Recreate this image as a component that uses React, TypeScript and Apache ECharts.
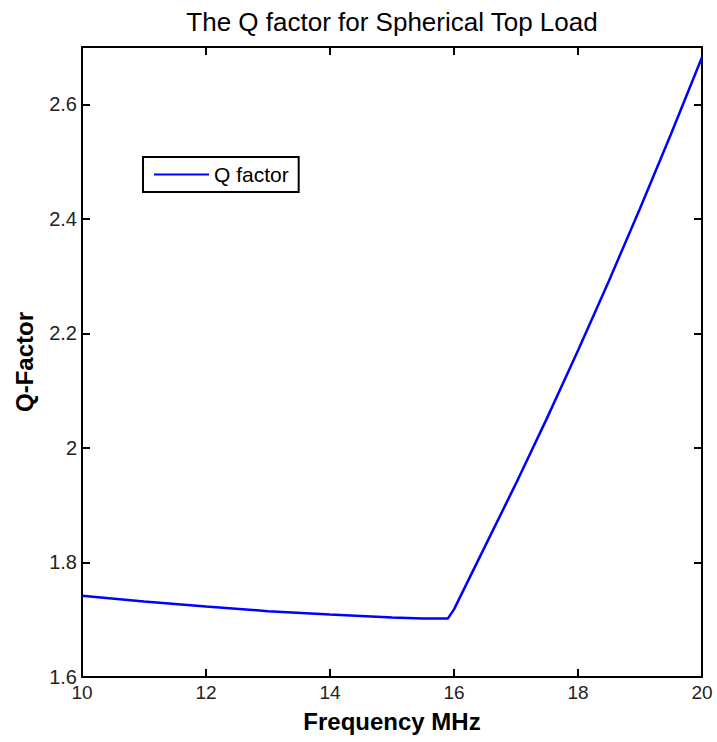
import React, { useEffect, useRef } from "react";
import * as echarts from "echarts";

const titleText = "The Q factor for Spherical Top Load";
const xName = "Frequency MHz";
const yName = "Q-Factor";
const seriesName = "Q factor";

const freq = [10, 11, 12, 13, 14, 15, 15.5, 15.9, 16, 16.5, 17, 17.5, 18, 18.5, 19, 19.5, 20];
const qValues = [1.742, 1.732, 1.723, 1.715, 1.709, 1.704, 1.702, 1.702, 1.718, 1.828, 1.938, 2.052, 2.17, 2.292, 2.418, 2.548, 2.682];

const xTicks = [10, 12, 14, 16, 18, 20];
const yTicks = [1.6, 1.8, 2, 2.2, 2.4, 2.6];

const FONT = "Liberation Sans, Arial, sans-serif";

export default function App() {
  const ref = useRef<HTMLDivElement>(null);
  useEffect(() => {
    if (!ref.current) return;
    const chart = echarts.init(ref.current, undefined, { renderer: "svg" });
    const axisLine = { show: true, lineStyle: { color: "#000", width: 2 } };
    const tick = { show: true, inside: true, length: 8, lineStyle: { color: "#000", width: 2 } };
    chart.setOption({
      animation: false,
      backgroundColor: "#fff",
      title: {
        text: titleText,
        left: 392,
        top: 9,
        padding: 0,
        textAlign: "center",
        textStyle: { fontFamily: FONT, fontSize: 26, fontWeight: "normal", color: "#000" },
      },
      legend: {
        left: 143,
        top: 157,
        data: [seriesName],
        itemWidth: 55,
        itemHeight: 14,
        padding: [7, 10, 7, 10],
        borderColor: "#000",
        borderWidth: 2,
        backgroundColor: "#fff",
        itemStyle: { opacity: 0 },
        textStyle: { fontFamily: FONT, fontSize: 21, color: "#000", lineHeight: 21 },
      },
      grid: { left: 82, right: 15, top: 47, bottom: 65, containLabel: false },
      xAxis: [
        {
          type: "value",
          min: 10,
          max: 20,
          interval: 2,
          position: "bottom",
          name: xName,
          nameLocation: "middle",
          nameGap: 32,
          nameTextStyle: { fontFamily: FONT, fontSize: 24, fontWeight: "bold", color: "#000" },
          axisLine,
          axisTick: { ...tick, customValues: xTicks },
          axisLabel: { customValues: xTicks, fontFamily: FONT, fontSize: 19, color: "#222", margin: 6 },
          splitLine: { show: false },
        },
        {
          type: "value",
          min: 10,
          max: 20,
          interval: 2,
          position: "top",
          axisLine,
          axisTick: { ...tick, customValues: xTicks },
          axisLabel: { show: false },
          splitLine: { show: false },
        },
      ],
      yAxis: [
        {
          type: "value",
          min: 1.6,
          max: 2.7,
          interval: 0.2,
          position: "left",
          name: yName,
          nameLocation: "middle",
          nameGap: 46,
          nameTextStyle: { fontFamily: FONT, fontSize: 24, fontWeight: "bold", color: "#000" },
          axisLine,
          axisTick: { ...tick, customValues: yTicks },
          axisLabel: { customValues: yTicks, fontFamily: FONT, fontSize: 20, color: "#222", margin: 5 },
          splitLine: { show: false },
        },
        {
          type: "value",
          min: 1.6,
          max: 2.7,
          interval: 0.2,
          position: "right",
          axisLine,
          axisTick: { ...tick, customValues: yTicks },
          axisLabel: { show: false },
          splitLine: { show: false },
        },
      ],
      series: [
        {
          name: seriesName,
          type: "line",
          xAxisIndex: 0,
          yAxisIndex: 0,
          data: freq.map((f, i) => [f, qValues[i]]),
          symbol: "none",
          lineStyle: { color: "#0000ff", width: 2.5 },
          itemStyle: { color: "#0000ff" },
        },
      ],
    });
    return () => chart.dispose();
  }, []);
  return <div ref={ref} style={{ width: 717, height: 742, position: "absolute", left: 0, top: 0 }} />;
}
